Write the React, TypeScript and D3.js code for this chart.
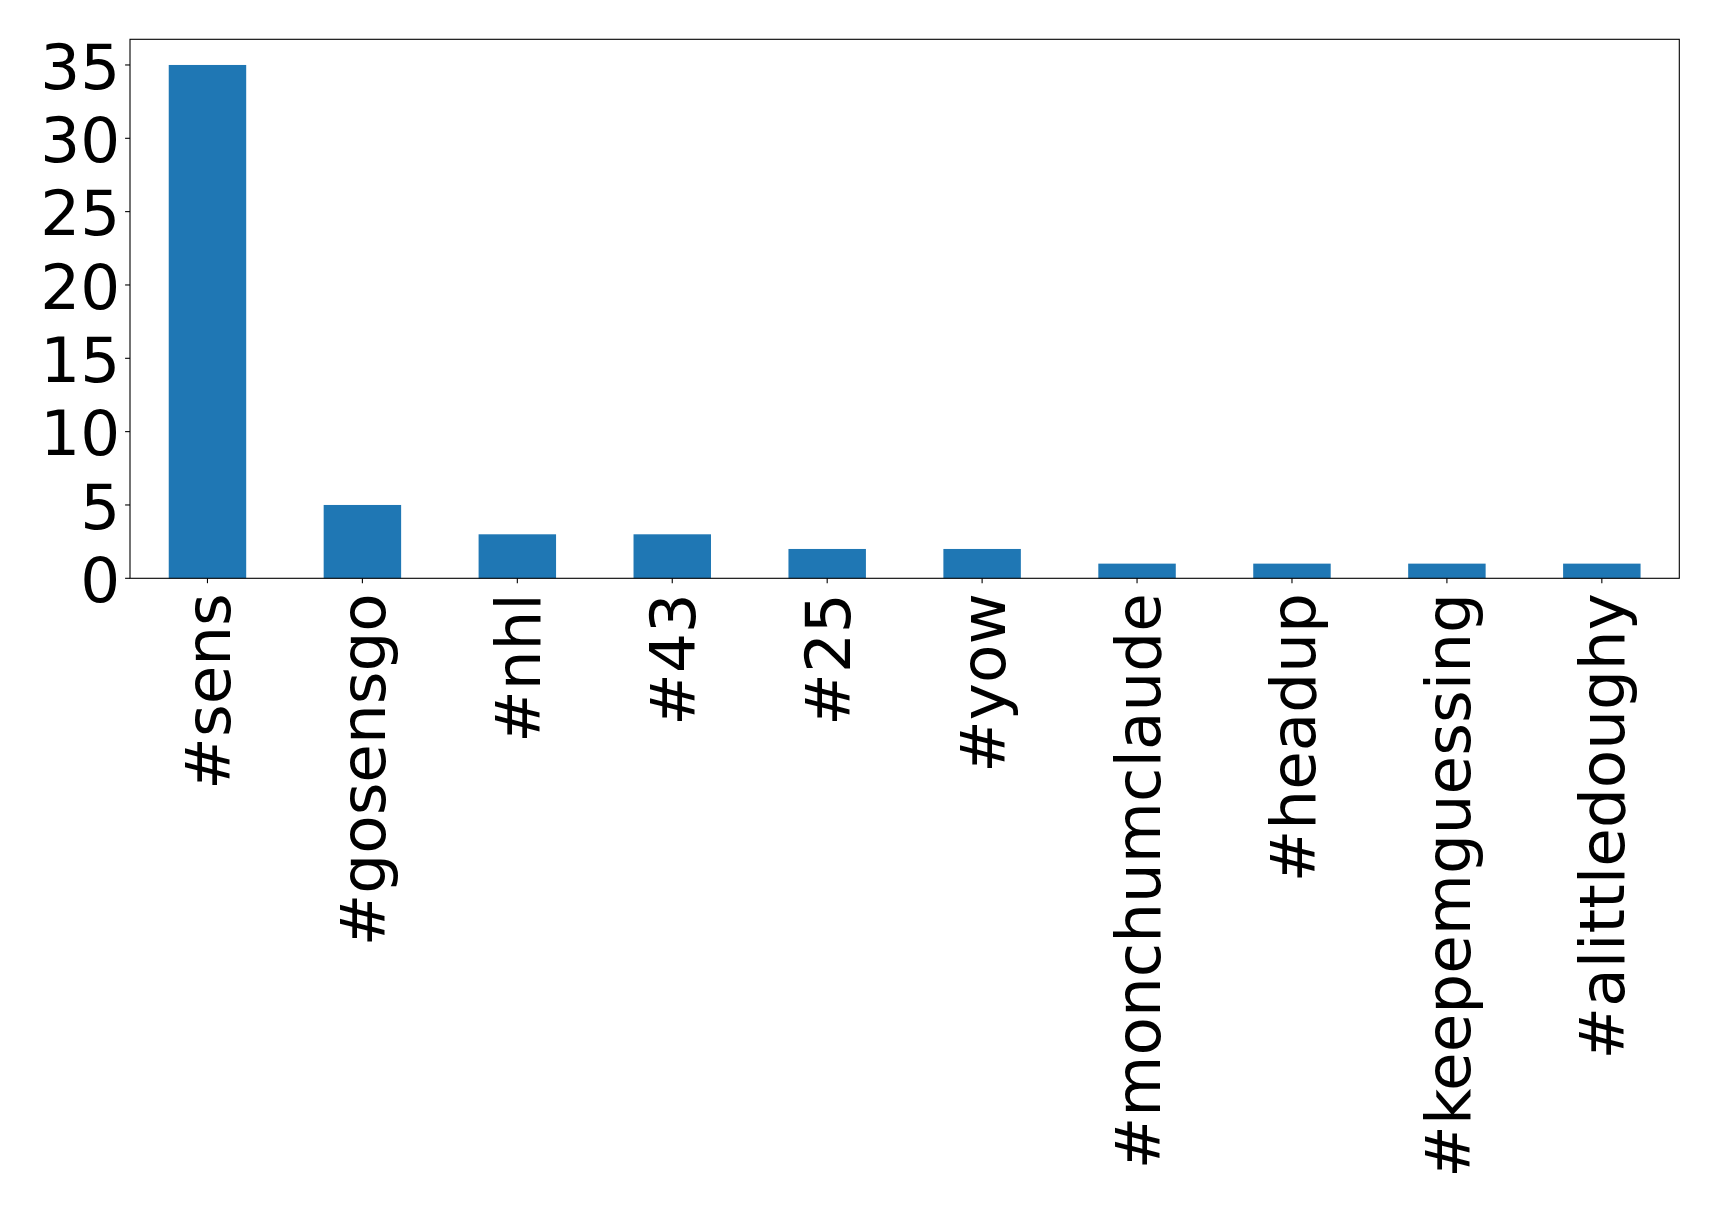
import React from "react";
import * as d3 from "d3";

const categories = ["#sens", "#gosensgo", "#nhl", "#43", "#25", "#yow", "#monchumclaude", "#headup", "#keepemguessing", "#alittledoughy"];
const counts = [35, 5, 3, 3, 2, 2, 1, 1, 1, 1];
const yTicks = [0, 5, 10, 15, 20, 25, 30, 35];

const W = 1719;
const H = 1209;
const M = { left: 130, right: 1679.3, top: 39.3, bottom: 578.3 };
const FS = 62.8;
const FONT = "DejaVu Sans";

export default function App() {
  const x = d3.scaleBand<string>().domain(categories).range([M.left, M.right]).paddingInner(0.5).paddingOuter(0.25);
  const y = d3.scaleLinear().domain([0, 36.75]).range([M.bottom, M.top]);
  const tickLen = 4.9;
  return (
    <svg width={W} height={H} style={{ position: "absolute", left: 0, top: 0 }} fontFamily={FONT}>
      <rect x={0} y={0} width={W} height={H} fill="#fff" />
      {categories.map((c, i) => (
        <rect key={c} x={x(c)!} y={y(counts[i])} width={x.bandwidth()} height={y(0) - y(counts[i])} fill="#1f77b4" />
      ))}
      <rect x={M.left} y={M.top} width={M.right - M.left} height={M.bottom - M.top} fill="none" stroke="#000" strokeWidth={1.1} />
      {yTicks.map((t) => (
        <g key={t}>
          <line x1={M.left - tickLen} x2={M.left} y1={y(t)} y2={y(t)} stroke="#000" strokeWidth={1.1} />
          <text x={M.left - tickLen - 5} y={y(t) + 0.375 * FS} textAnchor="end" fontSize={FS} fill="#000">{t}</text>
        </g>
      ))}
      {categories.map((c) => {
        const cx = x(c)! + x.bandwidth() / 2;
        const ty = M.bottom + tickLen + 10;
        return (
          <g key={c}>
            <line x1={cx} x2={cx} y1={M.bottom} y2={M.bottom + tickLen} stroke="#000" strokeWidth={1.1} />
            <text transform={`translate(${cx + 0.36 * FS},${ty}) rotate(-90)`} textAnchor="end" fontSize={FS} fill="#000">{c}</text>
          </g>
        );
      })}
    </svg>
  );
}
